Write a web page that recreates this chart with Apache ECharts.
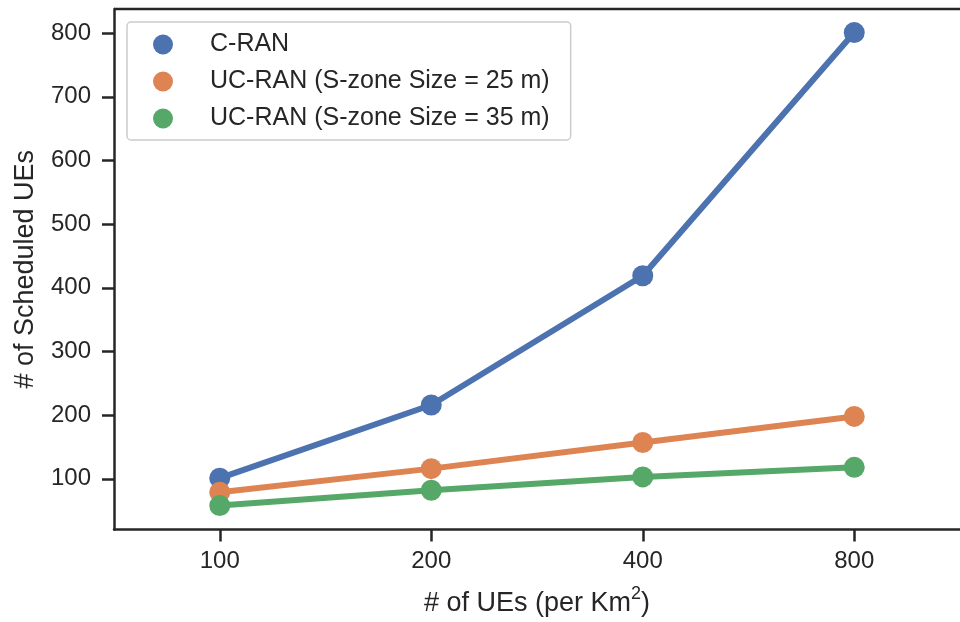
<!DOCTYPE html>
<html>
<head>
<meta charset="utf-8">
<script src="https://cdn.jsdelivr.net/npm/echarts@6/dist/echarts.min.js"></script>
<style>
html,body{margin:0;padding:0;background:#fff;}
#chart{width:960px;height:622px;}
</style>
</head>
<body>
<div id="chart"></div>
<script>
const categories = ['100', '200', '400', '800'];
const cran = [101, 216, 419, 801];
const ucran25 = [79, 116, 157, 198];
const ucran35 = [58, 82, 103, 118];
const seriesNames = ['C-RAN', 'UC-RAN (S-zone Size = 25 m)', 'UC-RAN (S-zone Size = 35 m)'];
const yTicks = [100, 200, 300, 400, 500, 600, 700, 800];
const colors = ['#4c72b0', '#dd8452', '#55a868'];

const FONT = '"Liberation Sans", Arial, Helvetica, sans-serif';
const TXT = '#262626';

const chart = echarts.init(document.getElementById('chart'), null, {renderer: 'canvas'});

function mkSeries(name, data, color) {
  return {
    name: name,
    type: 'line',
    data: data,
    symbol: 'circle',
    symbolSize: 21,
    lineStyle: {width: 6, color: color},
    itemStyle: {color: color},
    animation: false,
    z: 3
  };
}

chart.setOption({
  animation: false,
  textStyle: {fontFamily: FONT, color: TXT},
  grid: {left: 114, right: -7, top: 9, bottom: 92, containLabel: false},
  legend: {
    left: 127,
    top: 22,
    orient: 'vertical',
    data: seriesNames.map(n => ({name: n, icon: 'circle'})),
    itemWidth: 20,
    itemHeight: 20,
    itemGap: 12,
    padding: [10, 21, 9, 26],
    backgroundColor: '#fff',
    borderColor: '#cccccc',
    borderWidth: 1.5,
    borderRadius: 4,
    formatter: name => '{t|' + name + '}',
    textStyle: {
      fontFamily: FONT,
      color: TXT,
      fontSize: 25,
      rich: {t: {fontFamily: FONT, color: TXT, fontSize: 25, padding: [0, 0, 0, 32]}}
    }
  },
  xAxis: {
    type: 'category',
    data: categories,
    boundaryGap: true,
    name: '{a|# of UEs (per Km}{s|2}{a|)}',
    nameLocation: 'middle',
    nameGap: 56,
    nameTextStyle: {
      rich: {
        a: {fontFamily: FONT, fontSize: 27, color: TXT},
        s: {fontFamily: FONT, fontSize: 18, color: TXT, padding: [0, 0, 18, 0]}
      }
    },
    axisLine: {show: true, lineStyle: {color: TXT, width: 2.5}},
    axisTick: {show: true, alignWithLabel: true, length: 12, lineStyle: {color: TXT, width: 2.5}},
    axisLabel: {fontFamily: FONT, fontSize: 24, color: TXT, margin: 20},
    splitLine: {show: false}
  },
  yAxis: {
    type: 'value',
    min: 20.4,
    max: 838,
    name: '# of Scheduled UEs',
    nameLocation: 'middle',
    nameGap: 75,
    nameTextStyle: {fontFamily: FONT, fontSize: 27, color: TXT},
    axisLine: {show: true, lineStyle: {color: TXT, width: 2.5}},
    axisTick: {show: true, length: 12, customValues: yTicks, lineStyle: {color: TXT, width: 2.5}},
    axisLabel: {fontFamily: FONT, fontSize: 24, color: TXT, margin: 23, customValues: yTicks},
    splitLine: {show: false}
  },
  graphic: [],
  series: [
    mkSeries(seriesNames[0], cran, colors[0]),
    mkSeries(seriesNames[1], ucran25, colors[1]),
    mkSeries(seriesNames[2], ucran35, colors[2])
  ]
});

// top spine (matplotlib box frame; right spine lies beyond the cropped view)
const gridRect = chart.getModel().getComponent('grid').coordinateSystem.getRect();
chart.setOption({
  graphic: [{
    type: 'line',
    shape: {x1: gridRect.x, y1: gridRect.y, x2: gridRect.x + gridRect.width, y2: gridRect.y},
    style: {stroke: TXT, lineWidth: 2.5},
    z: 10
  }]
});
</script>
</body>
</html>
